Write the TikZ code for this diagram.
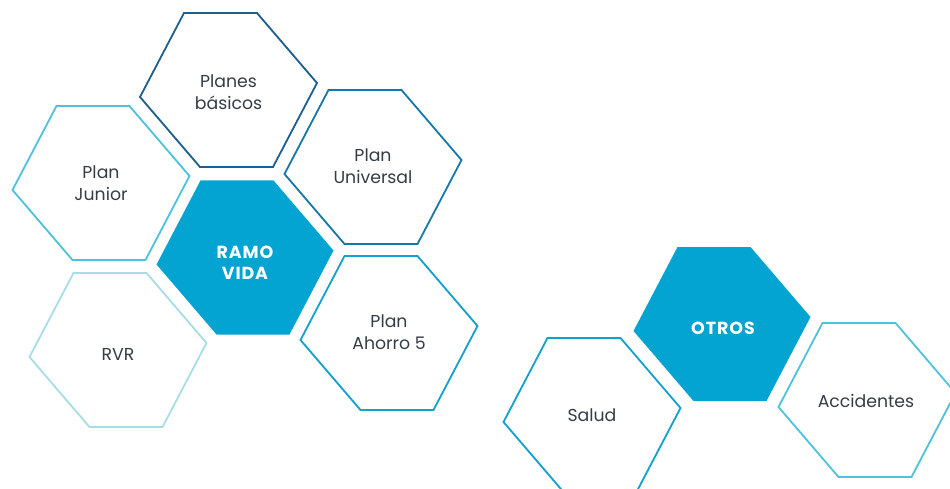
\documentclass[tikz,border=0pt]{standalone}
\usepackage{fontspec}
\setmainfont{Poppins}

\definecolor{cText}{HTML}{343D46}
\definecolor{cMain}{HTML}{03A4D1}
\definecolor{cDark}{HTML}{1D5F8E}
\definecolor{cMid}{HTML}{1578A8}
\definecolor{cBlue}{HTML}{12A0CF}
\definecolor{cLight}{HTML}{4DC2DC}
\definecolor{cPale}{HTML}{A6DDE6}

\tikzset{
  pics/hexcell/.style={code={
    \path[line width=1.8pt,line join=miter,#1]
      (-44.5,-77) -- (28.5,-77) -- (88.5,-7) -- (44.5,77) -- (-28.5,77) -- (-88.5,7) -- cycle;}},
  label/.style={align=center, text=cText, inner sep=0pt,
    font=\fontsize{17.3}{22}\selectfont},
  headline/.style={align=center, text=white, inner sep=0pt,
    font=\bfseries\fontsize{17.5}{21}\selectfont\addfontfeature{LetterSpace=5}}
}

\begin{document}
\begin{tikzpicture}[x=1pt,y=-1pt]
  \clip (0,0) rectangle (950,489);
  % Ramo vida
  \pic at (245,257.5) {hexcell={fill=cMain}};
  \pic at (228.5,90) {hexcell={draw=cDark}};
  \pic at (101,183) {hexcell={draw=cLight}};
  \pic at (373,167) {hexcell={draw=cMid}};
  \pic at (118,350) {hexcell={draw=cPale}};
  \pic at (389,333) {hexcell={draw=cBlue}};
  \node[headline] (vida) at (245,263) {RAMO\\VIDA};
  \node[label] (basicos) at (228.5,92) {Planes\\básicos};
  \node[label] (junior) at (101,183.5) {Plan\\Junior};
  \node[label] (universal) at (373,166) {Plan\\Universal};
  \node[label] (rvr) at (118,354) {RVR};
  \node[label] (ahorro) at (389,332.5) {Plan\\Ahorro 5};
  % Otros
  \pic at (722,324) {hexcell={fill=cMain}};
  \pic at (592,415) {hexcell={draw=cBlue}};
  \pic at (867,400) {hexcell={draw=cLight}};
  \node[headline] (otros) at (723,328) {OTROS};
  \node[label] (salud) at (592,415) {Salud};
  \node[label] (accidentes) at (866,401) {Accidentes};
\end{tikzpicture}
\end{document}
